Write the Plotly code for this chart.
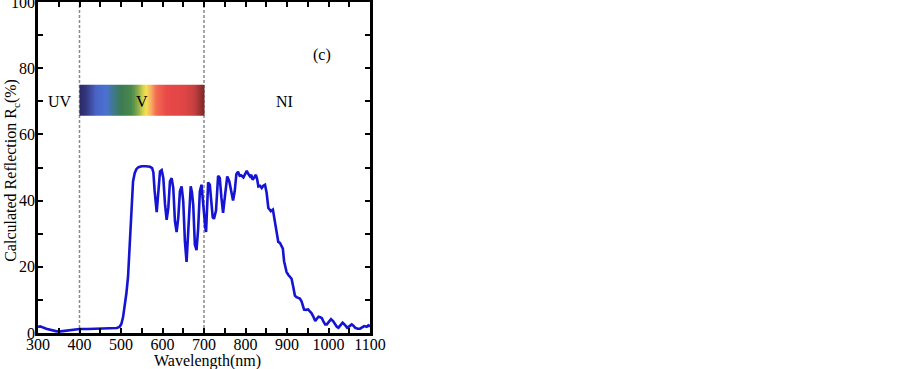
import plotly.graph_objects as go

# ---------------- data ----------------
wavelength_nm = [300, 305, 320, 335, 345, 355, 370, 385, 400, 420, 441, 460, 480, 490, 497,
                 501, 505, 509, 513, 517, 521, 525, 529, 533, 537, 542, 550, 560, 570, 575,
                 578, 581, 584, 586, 588, 590, 592, 594, 598, 602, 606, 610, 614, 618, 622,
                 626, 630, 634, 638, 642, 646, 650, 654, 658, 662, 666, 668, 671, 674, 678,
                 682, 686, 690, 694, 697, 700, 703, 705, 708, 710, 714, 718, 721, 724, 729,
                 734, 738, 742, 746, 750, 756, 761, 766, 770, 774, 778, 782, 786, 790, 795,
                 799, 803, 807, 811, 814, 817, 821, 825, 828, 831, 835, 839, 843, 847, 851,
                 855, 858, 861, 866, 871, 876, 879, 883, 887, 890, 893, 896, 899, 903, 907,
                 911, 915, 919, 923, 927, 931, 935, 938, 941, 946, 951, 955, 959, 964, 968,
                 972, 976, 980, 984, 988, 992, 996, 1001, 1006, 1011, 1016, 1020, 1024, 1029,
                 1034, 1039, 1045, 1050, 1056, 1060, 1064, 1070, 1076, 1081, 1086, 1092, 1096, 1100]
reflection_pct = [1.9, 2.0, 1.3, 0.7, 0.5, 0.5, 0.7, 1.0, 1.2, 1.2, 1.3, 1.3, 1.4, 1.5, 1.9,
                  2.8, 4.8, 8.0, 12.0, 17.0, 27.5, 39.5, 45.8, 48.3, 49.5, 50.1, 50.4, 50.4, 50.2, 49.8,
                  48.5, 43.0, 38.0, 36.5, 39.5, 42.5, 46.5, 48.8, 49.2, 46.8, 39.0, 34.2, 37.8, 45.8, 46.8,
                  43.8, 33.7, 30.5, 34.8, 42.8, 44.3, 39.8, 27.7, 21.5, 30.7, 42.8, 44.3, 42.5, 38.8, 26.7,
                  25.0, 31.7, 42.8, 44.8, 40.0, 34.7, 32.0, 30.5, 41.8, 45.5, 44.8, 37.8, 35.0, 34.5, 37.0,
                  47.5, 46.8, 40.8, 36.3, 40.8, 47.3, 45.8, 41.8, 40.0, 42.8, 48.0, 48.7, 47.5, 47.6, 47.0,
                  48.0, 49.0, 48.0, 47.3, 47.8, 46.3, 47.0, 47.8, 46.5, 44.3, 44.5, 43.8, 44.5, 44.8, 42.3,
                  37.8, 37.3, 36.8, 37.3, 33.2, 29.5, 27.5, 27.2, 26.2, 25.5, 21.7, 19.5, 18.4, 17.6, 17.0,
                  16.4, 14.0, 11.3, 10.8, 10.6, 10.4, 9.6, 8.0, 7.1, 7.0, 7.1, 6.5, 6.0, 4.8, 3.6,
                  4.3, 4.9, 4.8, 4.5, 3.4, 2.6, 2.6, 3.5, 4.2, 3.6, 2.6, 1.9, 1.6, 2.3,
                  3.1, 2.5, 1.6, 2.0, 2.6, 2.2, 1.6, 1.3, 1.3, 1.7, 2.1, 1.9, 2.3, 2.0]

x_tick_vals = [300, 350, 400, 450, 500, 550, 600, 650, 700, 750, 800, 850, 900, 950, 1000, 1050, 1100]
x_tick_text = ["300", "", "400", "", "500", "", "600", "", "700", "", "800", "", "900", "", "1000", "", "1100"]
y_tick_vals = [0, 10, 20, 30, 40, 50, 60, 70, 80, 90, 100]
y_tick_text = ["0", "", "20", "", "40", "", "60", "", "80", "", "100"]

region_bounds_nm = [400, 700]           # UV | V | NI boundaries
region_labels = ["UV", "V", "NI"]
region_label_x = [353, 551, 895]
region_label_y = 70
panel_label = "(c)"

# visible spectrum colour strip
spectrum_nm = [400, 415, 440, 465, 482, 500, 525, 540, 552, 560, 570, 585, 610, 650, 675, 700]
spectrum_colors = ["#2a2868", "#33367c", "#4a64c8", "#4a72d0", "#3f7a88", "#3e7a52", "#4a8a4c",
                   "#8aab4a", "#cfd24e", "#f6e050", "#f8b464", "#f26a50", "#e84848", "#e04646",
                   "#c84040", "#7a2828"]
strip_y = [65.6, 75.0]

FONT = "Liberation Serif, Times New Roman, serif"

fig = go.Figure()

# colour strip as heatmap
lo, hi = region_bounds_nm
strip_edges = list(range(lo, hi + 1))
strip_z = [[e + 0.5 for e in strip_edges[:-1]]]
colorscale = [[(w - lo) / (hi - lo), c] for w, c in zip(spectrum_nm, spectrum_colors)]
fig.add_trace(go.Heatmap(x=strip_edges, y=strip_y, z=strip_z, colorscale=colorscale,
                         zmin=lo, zmax=hi, showscale=False, hoverinfo="skip"))

fig.add_trace(go.Scatter(x=wavelength_nm, y=reflection_pct, mode="lines",
                         line=dict(color="#1414d2", width=2.6), showlegend=False))

for b in region_bounds_nm:
    fig.add_shape(type="line", xref="x", yref="y", x0=b, x1=b, y0=0, y1=100,
                  line=dict(color="#8a8a8a", width=1.5, dash="3px,2px"), layer="below")

for lab, lx in zip(region_labels, region_label_x):
    fig.add_annotation(x=lx, y=region_label_y, text=lab, showarrow=False,
                       font=dict(family=FONT, size=16, color="black"))
fig.add_annotation(x=984, y=84, text=panel_label, showarrow=False,
                   font=dict(family=FONT, size=16, color="black"))

# axis titles
fig.add_annotation(xref="paper", yref="paper", x=0, y=0.49, xshift=-26, textangle=-90,
                   text="Calculated Reflection R<sub>c</sub>(%)", showarrow=False,
                   xanchor="center", yanchor="middle",
                   font=dict(family=FONT, size=16, color="black"))
fig.add_annotation(xref="x", yref="paper", x=708, y=0, yshift=-28,
                   text="Wavelength(nm)", showarrow=False, xanchor="center", yanchor="middle",
                   font=dict(family=FONT, size=16, color="black"))

axis_common = dict(showline=True, linecolor="black", linewidth=2.5, mirror="ticks",
                   ticks="inside", ticklen=5, tickwidth=1.5, tickcolor="black",
                   showgrid=False, zeroline=False, ticklabeloverflow="allow",
                   tickfont=dict(family=FONT, size=16, color="black"))
fig.update_xaxes(range=[300, 1100], tickmode="array", tickvals=x_tick_vals,
                 ticktext=x_tick_text, ticklabelstandoff=-5, **axis_common)
fig.update_yaxes(range=[0, 100], tickmode="array", tickvals=y_tick_vals,
                 ticktext=y_tick_text, ticklabelstandoff=-3, **axis_common)

fig.update_layout(width=903, height=369, margin=dict(l=38, r=533, t=2, b=36, autoexpand=False),
                  plot_bgcolor="white", paper_bgcolor="white", showlegend=False,
                  font=dict(family=FONT, size=16, color="black"))

fig.write_html("out.html", config={"displayModeBar": False},
               post_script="document.body.style.margin='0';")
